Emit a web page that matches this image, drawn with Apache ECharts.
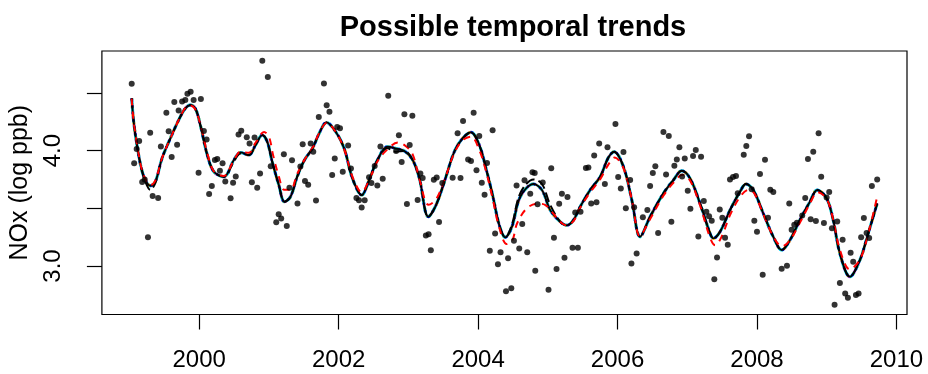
<!DOCTYPE html>
<html>
<head>
<meta charset="utf-8">
<title>Possible temporal trends</title>
<script src="https://cdn.jsdelivr.net/npm/echarts@6/dist/echarts.min.js"></script>
<style>
  html, body { margin: 0; padding: 0; background: #fff; }
  #chart { width: 928px; height: 374px; }
</style>
</head>
<body>
<div id="chart"></div>
<script>
// Observed NOx (log ppb) by decimal year
const obsYear = [
  1999.032,1999.067,1999.103,1999.139,1999.182,1999.218,1999.265,1999.297,1999.332,1999.411,
  1999.450,1999.529,1999.562,1999.605,1999.643,1999.683,1999.705,1999.755,1999.801,1999.831,
  1999.877,1999.920,1999.991,2000.024,2000.067,2000.106,2000.142,2000.181,2000.225,2000.259,
  2000.297,2000.335,2000.374,2000.450,2000.486,2000.524,2000.564,2000.603,2000.682,2000.722,
  2000.755,2000.794,2000.832,2000.873,2000.905,2000.984,2001.026,2001.105,2001.140,2001.176,
  2001.214,2001.256,2001.294,2001.331,2001.410,2001.451,2001.484,2001.517,2001.563,2001.599,
  2001.636,2001.675,2001.715,2001.789,2001.828,2001.868,2001.907,2001.944,2001.979,2002.019,
  2002.059,2002.136,2002.176,2002.255,2002.291,2002.330,2002.373,2002.436,2002.470,2002.517,
  2002.555,2002.599,2002.632,2002.711,2002.824,2002.864,2002.904,2002.943,2002.979,2003.019,
  2003.057,2003.133,2003.172,2003.205,2003.251,2003.290,2003.322,2003.365,2003.406,2003.440,
  2003.487,2003.635,2003.706,2003.748,2003.784,2003.857,2003.898,2003.936,2003.977,2004.017,
  2004.053,2004.093,2004.128,2004.168,2004.208,2004.244,2004.285,2004.322,2004.400,2004.430,
  2004.476,2004.514,2004.552,2004.590,2004.633,2004.666,2004.705,2004.748,2004.780,2004.812,
  2004.820,2004.853,2004.927,2005.010,2005.049,2005.088,2005.125,2005.163,2005.202,2005.239,
  2005.282,2005.354,2005.393,2005.431,2005.469,2005.546,2005.582,2005.622,2005.665,2005.698,
  2005.737,2005.818,2005.856,2005.970,2006.009,2006.047,2006.085,2006.119,2006.181,2006.199,
  2006.238,2006.274,2006.363,2006.428,2006.467,2006.506,2006.542,2006.582,2006.658,2006.696,
  2006.735,2006.772,2006.815,2006.850,2006.887,2006.926,2006.964,2007.007,2007.045,2007.083,
  2007.122,2007.159,2007.198,2007.237,2007.274,2007.313,2007.351,2007.388,2007.427,2007.466,
  2007.503,2007.542,2007.581,2007.613,2007.656,2007.699,2007.724,2007.810,2007.847,2007.886,
  2007.924,2007.962,2008.000,2008.043,2008.082,2008.115,2008.158,2008.191,2008.234,2008.354,
  2008.430,2008.463,2008.497,2008.535,2008.573,2008.649,2008.692,2008.731,2008.770,2008.807,
  2008.845,2008.884,2008.921,2008.960,2008.999,2009.036,2009.075,2009.113,2009.151,2009.189,
  2009.228,2009.265,2009.304,2009.343,2009.380,2009.419,2009.457,2009.494,2009.533,2009.572,
  2009.609,2009.648,2009.724
];
const obsNOx = [
  4.579,3.889,4.013,4.082,3.727,3.749,3.248,4.154,3.606,3.588,
  4.036,4.328,4.167,3.944,4.420,4.050,4.348,4.426,4.438,4.492,
  4.510,4.438,3.808,4.446,4.169,4.095,3.623,3.692,3.919,3.926,
  3.824,3.890,3.731,3.586,3.720,3.775,4.139,4.172,4.115,4.061,
  3.725,4.114,3.678,3.802,4.778,4.637,3.863,3.379,3.448,3.411,
  3.967,3.346,3.677,3.916,3.541,3.861,4.054,3.736,3.703,4.061,
  3.989,3.567,4.290,4.582,4.393,4.336,3.788,3.931,4.204,4.193,
  3.816,4.043,3.844,3.588,3.569,3.506,3.569,3.768,3.718,3.866,
  3.698,4.035,3.756,4.475,3.996,4.132,3.900,4.315,3.536,4.048,
  4.302,3.571,3.802,3.762,3.263,3.275,3.136,3.746,3.766,3.380,
  3.718,3.764,4.149,3.762,4.257,3.922,3.909,4.327,3.829,4.126,
  3.720,3.616,3.892,3.131,4.175,3.282,3.014,3.118,2.780,3.066,
  2.806,3.218,3.698,3.152,3.363,3.742,3.118,3.626,3.811,3.805,
  2.958,3.534,3.723,2.794,3.847,3.244,2.973,3.539,3.626,3.071,
  3.597,3.158,3.464,3.158,3.470,3.848,3.853,3.542,3.958,3.551,
  4.062,3.710,4.028,4.230,3.770,3.672,3.987,3.499,3.744,3.022,
  3.508,3.107,3.421,3.484,3.692,3.805,3.863,3.285,4.160,3.792,
  4.126,3.383,3.868,3.922,4.028,3.775,3.932,3.652,3.496,3.952,
  4.004,3.256,3.946,3.562,3.470,3.430,3.392,2.884,3.074,3.490,
  3.418,3.244,3.184,3.750,3.770,3.779,3.629,3.964,4.039,4.123,
  3.664,3.392,3.296,3.796,2.924,3.920,3.418,3.660,3.640,2.976,
  3.002,3.542,3.314,3.357,3.374,3.438,3.588,3.926,3.404,3.990,
  3.389,4.149,3.773,3.372,3.594,3.640,3.326,2.664,3.386,2.852,
  3.227,2.762,2.724,3.114,3.036,2.748,2.762,3.248,3.415,3.285,
  3.242,3.692,3.749
];

// Fitted trend (seasonal smooth) shared by most models
const fitYear = [
  1999.032,1999.060,1999.107,1999.170,1999.228,1999.299,1999.371,1999.466,1999.586,1999.705,
  1999.801,1999.872,1999.944,2000.016,2000.116,2000.211,2000.354,2000.497,2000.593,2000.712,
  2000.808,2000.904,2000.976,2001.047,2001.142,2001.223,2001.309,2001.405,2001.510,2001.625,
  2001.721,2001.825,2001.958,2002.079,2002.198,2002.331,2002.437,2002.556,2002.699,2002.818,
  2002.943,2003.062,2003.158,2003.287,2003.397,2003.516,2003.659,2003.778,2003.898,2004.017,
  2004.113,2004.208,2004.304,2004.390,2004.486,2004.605,2004.795,2004.916,2005.034,2005.178,
  2005.274,2005.368,2005.464,2005.607,2005.751,2005.865,2005.951,2006.085,2006.205,2006.324,
  2006.467,2006.658,2006.801,2006.921,2007.040,2007.183,2007.327,2007.374,2007.470,2007.613,
  2007.756,2007.842,2007.947,2008.090,2008.234,2008.354,2008.473,2008.616,2008.759,2008.864,
  2008.999,2009.093,2009.189,2009.333,2009.476,2009.595,2009.724
];
const fitMain = [
  4.452,4.250,4.048,3.846,3.744,3.695,3.730,3.932,4.106,4.264,
  4.366,4.394,4.366,4.221,3.961,3.816,3.773,3.918,3.984,3.961,
  4.048,4.134,4.076,3.903,3.701,3.556,3.600,3.773,3.918,4.019,
  4.149,4.244,4.163,4.019,3.759,3.614,3.744,3.918,4.033,4.019,
  3.996,3.918,3.759,3.426,3.528,3.730,3.990,4.106,4.158,4.048,
  3.846,3.614,3.354,3.248,3.340,3.600,3.710,3.658,3.484,3.383,
  3.352,3.398,3.513,3.658,3.773,3.935,3.990,3.860,3.571,3.253,
  3.426,3.629,3.744,3.825,3.759,3.542,3.282,3.239,3.296,3.484,
  3.643,3.710,3.658,3.456,3.253,3.138,3.224,3.398,3.556,3.658,
  3.586,3.398,3.109,2.906,3.051,3.282,3.542
];
// Long-dash model: same knots, slightly different in a few seasons
const fitLongDash = [
  4.452,4.250,4.048,3.846,3.730,3.660,3.720,3.932,4.106,4.264,
  4.366,4.394,4.366,4.221,3.961,3.816,3.773,3.905,3.975,3.961,
  4.048,4.134,4.076,3.903,3.701,3.556,3.600,3.773,3.918,4.019,
  4.149,4.244,4.163,4.019,3.759,3.614,3.744,3.918,4.020,3.990,
  3.996,3.918,3.759,3.426,3.528,3.730,3.990,4.106,4.158,4.048,
  3.846,3.614,3.354,3.248,3.360,3.630,3.750,3.710,3.530,3.383,
  3.352,3.398,3.513,3.658,3.773,3.935,3.990,3.860,3.571,3.253,
  3.426,3.629,3.744,3.825,3.759,3.542,3.282,3.239,3.296,3.484,
  3.643,3.710,3.658,3.456,3.253,3.138,3.224,3.398,3.556,3.658,
  3.586,3.398,3.109,2.906,3.051,3.282,3.542
];
// Red dashed model
const redYear = [
  1999.03,1999.06,1999.11,1999.17,1999.23,1999.30,1999.37,1999.47,1999.59,1999.71,
  1999.80,1999.87,1999.94,2000.02,2000.12,2000.21,2000.35,2000.50,2000.59,2000.71,
  2000.81,2000.93,2001.00,2001.06,2001.14,2001.22,2001.31,2001.40,2001.51,2001.63,
  2001.72,2001.83,2001.96,2002.08,2002.20,2002.33,2002.44,2002.56,2002.70,2002.85,
  2002.96,2003.06,2003.16,2003.29,2003.40,2003.52,2003.66,2003.78,2003.90,2004.02,
  2004.11,2004.21,2004.30,2004.41,2004.49,2004.56,2004.70,2004.85,2004.96,2005.07,
  2005.18,2005.27,2005.37,2005.46,2005.61,2005.75,2005.87,2005.96,2006.09,2006.21,
  2006.32,2006.47,2006.66,2006.80,2006.93,2007.04,2007.18,2007.33,2007.40,2007.49,
  2007.62,2007.77,2007.88,2007.96,2008.09,2008.23,2008.36,2008.47,2008.62,2008.76,
  2008.87,2009.00,2009.09,2009.19,2009.33,2009.48,2009.60,2009.72
];
const redNOx = [
  4.45,4.25,4.05,3.85,3.75,3.70,3.74,3.94,4.11,4.27,
  4.37,4.39,4.36,4.22,3.97,3.82,3.78,3.92,3.99,3.98,
  4.07,4.16,4.12,3.96,3.78,3.66,3.66,3.79,3.92,4.03,
  4.15,4.24,4.16,4.01,3.77,3.64,3.75,3.91,4.01,4.07,
  4.04,3.97,3.75,3.53,3.58,3.75,3.98,4.09,4.12,4.00,
  3.83,3.58,3.34,3.19,3.22,3.37,3.50,3.54,3.53,3.46,
  3.38,3.35,3.39,3.50,3.64,3.75,3.88,3.94,3.84,3.56,
  3.26,3.41,3.61,3.72,3.79,3.74,3.53,3.24,3.18,3.25,
  3.45,3.61,3.66,3.63,3.45,3.26,3.17,3.22,3.38,3.54,
  3.64,3.58,3.41,3.14,2.97,3.06,3.29,3.59
];

// Axis ticks and labels
const xTicks = [2000, 2002, 2004, 2006, 2008, 2010];
const yTicks = [3.0, 3.5, 4.0, 4.5];
const yLabelTicks = [3.0, 4.0];

// Axis limits extended 4% beyond the data, like base graphics
function paddedRange(values) {
  const lo = Math.min.apply(null, values), hi = Math.max.apply(null, values);
  const pad = (hi - lo) * 0.04;
  return [lo - pad, hi + pad];
}
const xRange = paddedRange(obsYear.concat(fitYear));
const yRange = paddedRange(obsNOx.concat(fitMain, redNOx));

const zip = (xs, ys) => xs.map((x, i) => [x, ys[i]]);

const FONT = '"Liberation Sans", Arial, Helvetica, sans-serif';

function trendLine(name, data, color, width, type, z) {
  return {
    name: name, type: 'line', data: data, showSymbol: false, smooth: 0.35,
    silent: true, z: z, animation: false,
    lineStyle: { color: color, width: width, type: type, cap: 'butt' }
  };
}

const chart = echarts.init(document.getElementById('chart'), null, { renderer: 'canvas' });
chart.setOption({
  animation: false,
  backgroundColor: '#ffffff',
  title: {
    text: 'Possible temporal trends',
    left: 508, top: 8, textAlign: 'center',
    textStyle: { fontFamily: FONT, fontWeight: 'bold', fontSize: 29, color: '#000' }
  },
  grid: {
    left: 100.7, right: 21, top: 51, bottom: 59.5,
    show: true, borderColor: '#000', borderWidth: 1.2, backgroundColor: 'transparent'
  },
  xAxis: {
    type: 'value', min: xRange[0], max: xRange[1],
    splitLine: { show: false },
    axisLine: { show: false },
    axisTick: { show: true, length: 15, customValues: xTicks, lineStyle: { color: '#000', width: 1.2 } },
    axisLabel: {
      customValues: xTicks, margin: 34, color: '#000', fontSize: 24, fontFamily: FONT,
      formatter: v => String(Math.round(v))
    }
  },
  yAxis: {
    type: 'value', min: yRange[0], max: yRange[1],
    name: 'NOx (log ppb)', nameLocation: 'middle', nameRotate: 90, nameGap: 63,
    nameTextStyle: { fontFamily: FONT, fontSize: 25, color: '#000' },
    splitLine: { show: false },
    axisLine: { show: false },
    axisTick: { show: true, length: 15, customValues: yTicks, lineStyle: { color: '#000', width: 1.2 } },
    axisLabel: {
      customValues: yLabelTicks, rotate: 90, margin: 37, color: '#000', fontSize: 24, fontFamily: FONT,
      formatter: v => v.toFixed(1)
    }
  },
  series: [
    trendLine('gam grey', zip(fitYear, fitMain), '#BEBEBE', 3, 'solid', 2),
    trendLine('gam magenta', zip(fitYear, fitMain), '#CC66FF', 3, [4, 4], 3),
    trendLine('gam yellow', zip(fitYear, fitMain), '#FFE000', 3, [2, 6], 4),
    trendLine('gam cyan', zip(fitYear, fitMain), '#00E5EE', 3, [6, 3], 5),
    trendLine('gam blue', zip(fitYear, fitMain), '#0000FF', 2.6, [2, 5], 6),
    trendLine('gam black', zip(fitYear, fitMain), '#000000', 1.9, 'solid', 7),
    trendLine('gam long-dash', zip(fitYear, fitLongDash), '#000000', 2, [10, 4], 8),
    trendLine('gam red', zip(redYear, redNOx), '#FF0000', 2, [7, 6], 9),
    {
      name: 'observed', type: 'scatter', data: zip(obsYear, obsNOx),
      symbol: 'circle', symbolSize: 6, silent: true, z: 10,
      itemStyle: { color: '#000', borderWidth: 0 }
    }
  ]
});
</script>
</body>
</html>
